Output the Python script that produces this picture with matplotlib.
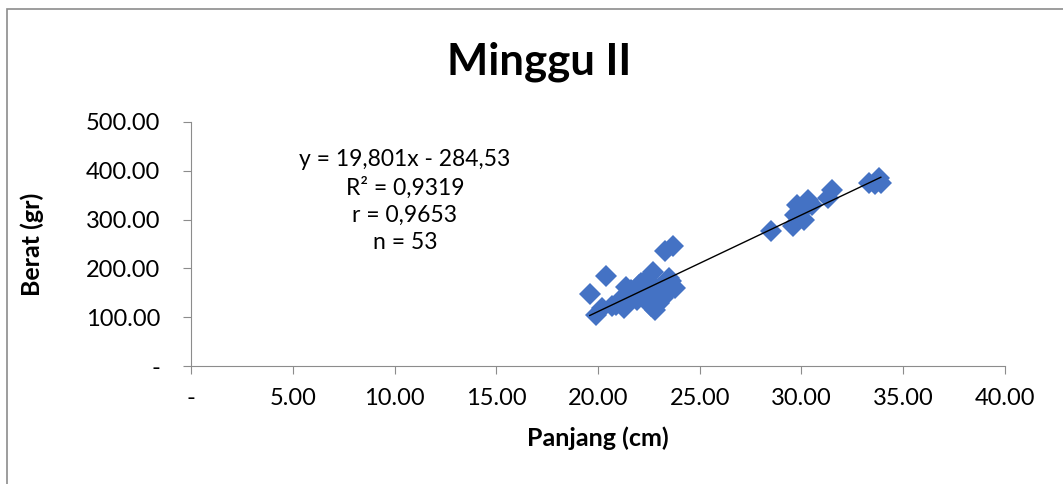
import matplotlib.pyplot as plt
import matplotlib.patches as mpatches
import numpy as np

plt.rcParams["font.family"] = ["Lato", "DejaVu Sans"]

# panjang (cm) and berat (gr)
panjang = [19.6, 19.9, 20.4, 20.2, 20.7, 21.3, 21.4, 21.5, 21.8, 22.1,
           22.3, 22.5, 22.6, 22.7, 22.8, 22.9, 23.0, 23.2, 23.3, 23.5,
           23.6, 23.7, 23.8, 21.9, 22.4, 22.2, 23.1, 22.6, 23.4, 21.6,
           22.0, 22.8, 23.6, 22.5, 23.0, 20.9, 21.2,
           28.5, 29.6, 29.7, 29.8, 30.0, 30.1, 30.3, 30.5, 31.3, 31.5,
           33.3, 33.6, 33.8, 33.9, 29.9, 30.2]
berat = [147, 104, 184, 118, 123, 118, 162, 150, 145, 170,
         175, 130, 122, 193, 115, 150, 160, 140, 235, 180,
         160, 245, 160, 135, 140, 155, 145, 170, 150, 155,
         165, 125, 175, 165, 130, 125, 140,
         276, 286, 310, 330, 320, 300, 340, 330, 345, 360,
         375, 372, 385, 375, 315, 325]

slope, intercept = 19.801, -284.53
stats_text = "y = 19,801x - 284,53\nR² = 0,9319\nr = 0,9653\nn = 53"

xticks = [0, 5, 10, 15, 20, 25, 30, 35, 40]
yticks = [0, 100, 200, 300, 400, 500]

fig = plt.figure(figsize=(10.63, 4.84), dpi=100)
ax = fig.add_axes([0.1797, 0.2438, 0.7657, 0.5042])

fig.patches.append(mpatches.Rectangle((7 / 1063, -0.1), 1.2, 1 - 9 / 484 + 0.1,
                                      transform=fig.transFigure, fill=False,
                                      edgecolor="#8c8c8c", linewidth=1.2))

ax.plot(panjang, berat, linestyle="none", marker="D", markersize=11,
        color="#4472C4", markeredgewidth=0)

xl = np.array([min(panjang), max(panjang)])
ax.plot(xl, slope * xl + intercept, color="black", linewidth=1.0)

ax.set_xlim(0, 40)
ax.set_ylim(0, 500)
ax.set_xticks(xticks)
ax.set_yticks(yticks)
ax.set_xticklabels(["-" if v == 0 else f"{v:.2f}" for v in xticks], fontsize=17)
ax.set_yticklabels(["-" if v == 0 else f"{v:.2f}" for v in yticks], fontsize=17)
ax.tick_params(direction="out", length=6, color="#8c8c8c")
ax.tick_params(axis="y", pad=16)
ax.tick_params(axis="x", pad=10)
for s in ["top", "right"]:
    ax.spines[s].set_visible(False)
for s in ["left", "bottom"]:
    ax.spines[s].set_color("#8c8c8c")

ax.set_xlabel("Panjang (cm)", fontsize=18, fontweight="bold", va="center")
ax.set_ylabel("Berat (gr)", fontsize=18, fontweight="bold", va="center")
ax.xaxis.set_label_coords(0.5, (366 - 438) / 244)
ax.yaxis.set_label_coords((33 - 192) / 813, 0.5)
fig.text(539 / 1063, 1 - 62 / 484, "Minggu II", fontsize=31.5, fontweight="bold",
         ha="center", va="center")
ax.text(405 / 1063, 1 - 201 / 484, stats_text, transform=fig.transFigure,
        fontsize=16.5, ha="center", va="center", linespacing=1.38)

fig.savefig("out.png", dpi=100)
